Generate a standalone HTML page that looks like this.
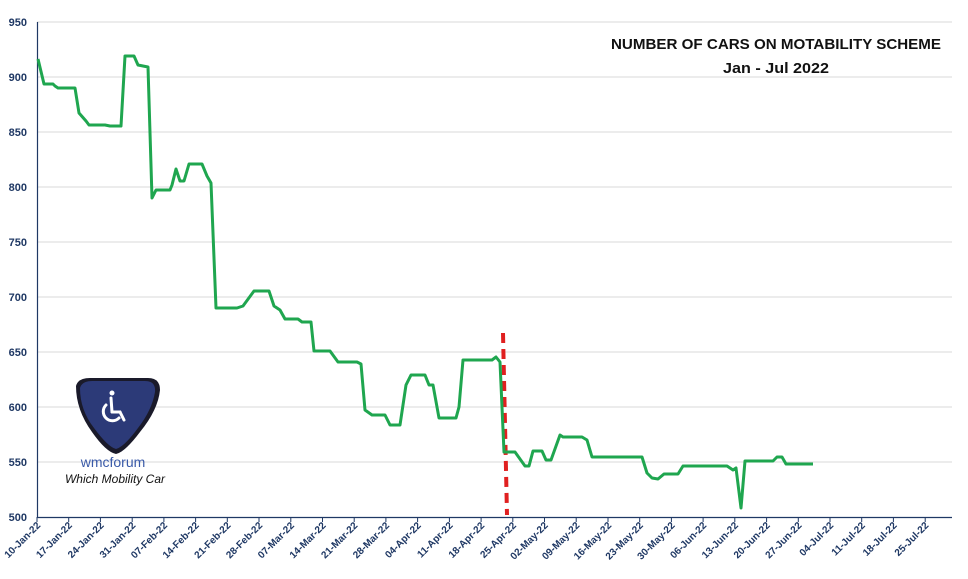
<!DOCTYPE html>
<html><head><meta charset="utf-8"><style>
html,body{margin:0;padding:0;background:#fff;}
svg{display:block;font-family:"Liberation Sans",sans-serif;}
</style></head><body>
<svg width="968" height="579" viewBox="0 0 968 579" xmlns="http://www.w3.org/2000/svg">
<g stroke="#d9d9d9" stroke-width="1">
<line x1="37" y1="22" x2="952" y2="22"/><line x1="37" y1="77" x2="952" y2="77"/>
<line x1="37" y1="132" x2="952" y2="132"/><line x1="37" y1="187" x2="952" y2="187"/>
<line x1="37" y1="242" x2="952" y2="242"/><line x1="37" y1="297" x2="952" y2="297"/>
<line x1="37" y1="352" x2="952" y2="352"/><line x1="37" y1="407" x2="952" y2="407"/>
<line x1="37" y1="462" x2="952" y2="462"/>
</g>
<g font-size="11" font-weight="bold" fill="#1f3864" text-anchor="end">
<text x="27" y="26">950</text><text x="27" y="81">900</text><text x="27" y="136">850</text>
<text x="27" y="191">800</text><text x="27" y="246">750</text><text x="27" y="301">700</text>
<text x="27" y="356">650</text><text x="27" y="411">600</text><text x="27" y="466">550</text>
<text x="27" y="521">500</text>
</g>
<line x1="37.5" y1="22" x2="37.5" y2="517" stroke="#1f3864" stroke-width="1.2"/>
<line x1="37" y1="517.5" x2="952" y2="517.5" stroke="#1f3864" stroke-width="1.2"/>
<g stroke="#1f3864" stroke-width="1">
<line x1="37" y1="517" x2="37" y2="522"/><line x1="68.7" y1="517" x2="68.7" y2="522"/><line x1="100.4" y1="517" x2="100.4" y2="522"/><line x1="132.2" y1="517" x2="132.2" y2="522"/><line x1="163.9" y1="517" x2="163.9" y2="522"/><line x1="195.6" y1="517" x2="195.6" y2="522"/><line x1="227.3" y1="517" x2="227.3" y2="522"/><line x1="259" y1="517" x2="259" y2="522"/><line x1="290.8" y1="517" x2="290.8" y2="522"/><line x1="322.5" y1="517" x2="322.5" y2="522"/><line x1="354.2" y1="517" x2="354.2" y2="522"/><line x1="385.9" y1="517" x2="385.9" y2="522"/><line x1="417.6" y1="517" x2="417.6" y2="522"/><line x1="449.4" y1="517" x2="449.4" y2="522"/><line x1="481.1" y1="517" x2="481.1" y2="522"/><line x1="512.8" y1="517" x2="512.8" y2="522"/><line x1="544.5" y1="517" x2="544.5" y2="522"/><line x1="576.2" y1="517" x2="576.2" y2="522"/><line x1="608" y1="517" x2="608" y2="522"/><line x1="639.7" y1="517" x2="639.7" y2="522"/><line x1="671.4" y1="517" x2="671.4" y2="522"/><line x1="703.1" y1="517" x2="703.1" y2="522"/><line x1="734.8" y1="517" x2="734.8" y2="522"/><line x1="766.6" y1="517" x2="766.6" y2="522"/><line x1="798.3" y1="517" x2="798.3" y2="522"/><line x1="830" y1="517" x2="830" y2="522"/><line x1="861.7" y1="517" x2="861.7" y2="522"/><line x1="893.4" y1="517" x2="893.4" y2="522"/><line x1="925.2" y1="517" x2="925.2" y2="522"/>
</g>
<g font-size="10" font-weight="bold" fill="#1f3864" text-anchor="end">
<text transform="translate(41,526) rotate(-45)">10-Jan-22</text>
<text transform="translate(72.7,526) rotate(-45)">17-Jan-22</text>
<text transform="translate(104.4,526) rotate(-45)">24-Jan-22</text>
<text transform="translate(136.2,526) rotate(-45)">31-Jan-22</text>
<text transform="translate(167.9,526) rotate(-45)">07-Feb-22</text>
<text transform="translate(199.6,526) rotate(-45)">14-Feb-22</text>
<text transform="translate(231.3,526) rotate(-45)">21-Feb-22</text>
<text transform="translate(263,526) rotate(-45)">28-Feb-22</text>
<text transform="translate(294.8,526) rotate(-45)">07-Mar-22</text>
<text transform="translate(326.5,526) rotate(-45)">14-Mar-22</text>
<text transform="translate(358.2,526) rotate(-45)">21-Mar-22</text>
<text transform="translate(389.9,526) rotate(-45)">28-Mar-22</text>
<text transform="translate(421.6,526) rotate(-45)">04-Apr-22</text>
<text transform="translate(453.4,526) rotate(-45)">11-Apr-22</text>
<text transform="translate(485.1,526) rotate(-45)">18-Apr-22</text>
<text transform="translate(516.8,526) rotate(-45)">25-Apr-22</text>
<text transform="translate(548.5,526) rotate(-45)">02-May-22</text>
<text transform="translate(580.2,526) rotate(-45)">09-May-22</text>
<text transform="translate(612,526) rotate(-45)">16-May-22</text>
<text transform="translate(643.7,526) rotate(-45)">23-May-22</text>
<text transform="translate(675.4,526) rotate(-45)">30-May-22</text>
<text transform="translate(707.1,526) rotate(-45)">06-Jun-22</text>
<text transform="translate(738.8,526) rotate(-45)">13-Jun-22</text>
<text transform="translate(770.6,526) rotate(-45)">20-Jun-22</text>
<text transform="translate(802.3,526) rotate(-45)">27-Jun-22</text>
<text transform="translate(834,526) rotate(-45)">04-Jul-22</text>
<text transform="translate(865.7,526) rotate(-45)">11-Jul-22</text>
<text transform="translate(897.4,526) rotate(-45)">18-Jul-22</text>
<text transform="translate(929.2,526) rotate(-45)">25-Jul-22</text>
</g>
<text x="776" y="49" text-anchor="middle" font-size="15" font-weight="bold" fill="#111" textLength="330" lengthAdjust="spacingAndGlyphs">NUMBER OF CARS ON MOTABILITY SCHEME</text>
<text x="776" y="73" text-anchor="middle" font-size="15" font-weight="bold" fill="#111" textLength="106" lengthAdjust="spacingAndGlyphs">Jan - Jul 2022</text>
<line x1="503" y1="333" x2="507" y2="515" stroke="#e02020" stroke-width="4" stroke-dasharray="10,6"/>
<polyline fill="none" stroke="#1fa64f" stroke-width="3" stroke-linejoin="round" points="
38,59 44,84 53,84 55,86 58,88 75,88 79,113 86,121 89,125 105,125 110,126 121,126 125,56 134,56 138,65 148,67 152,198 156,190 170,190 172,185 176,169 180,181 184,181 189,164 202,164 207,176 211,183 216,308 237,308 243,306 254,291 269,291 274,306 280,310 285,319 298,319 302,322 311,322 314,351 330,351 338,362 357,362 361,364 365,410 372,415 385,415 390,425 400,425 406,385 411,375 425,375 429,385 433,385 439,418 456,418 459,407 463,360 492,360 496,357 500,362 504,452 515,452 525,466 529,466 533,451 542,451 546,460 551,460 560,435 563,437 582,437 587,440 592,457 642,457 647,473 652,478 658,479 664,474 678,474 683,466 727,466 733,470 736,468 741,508 745,461 773,461 777,457 782,457 786,464 813,464"/>
<path d="M76,386 Q78,378 90,378 L148,378 Q160,378 160,390 Q158,410 140,432 Q125,452 116,454 Q106,452 92,432 Q76,410 76,386 Z" fill="#1a1a2a"/>
<path d="M80,388 Q82,381 92,381 L145,381 Q156,381 155,392 Q152,410 138,428 Q124,447 116,449 Q108,447 94,428 Q80,410 80,388 Z" fill="#2c3a78"/>
<g stroke="#fff" stroke-width="3" fill="none" stroke-linecap="round">
<circle cx="112" cy="393" r="2.5" fill="#fff" stroke="none"/>
<line x1="111" y1="398" x2="112" y2="412"/><line x1="112" y1="412" x2="120" y2="412"/><line x1="120" y1="412" x2="124" y2="420"/>
<path d="M106,405 A9,9 0 1 0 119,418"/>
</g>
<text x="113" y="467" text-anchor="middle" font-size="14" fill="#3a5aa8">wmcforum</text>
<text x="115" y="483" text-anchor="middle" font-size="12" font-style="italic" fill="#111">Which Mobility Car</text>
</svg>
</body></html>
